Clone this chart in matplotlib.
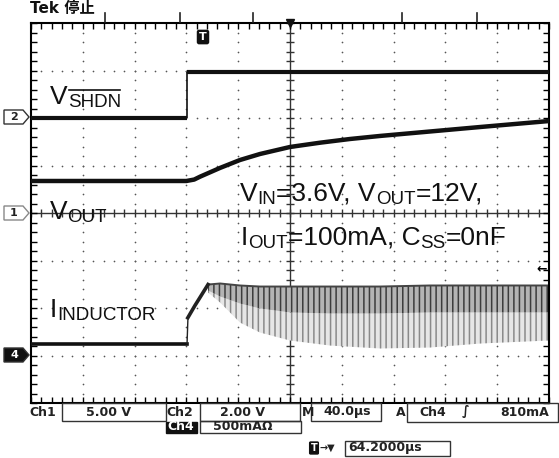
import matplotlib
matplotlib.use("Agg")
import matplotlib.pyplot as plt
import numpy as np
from matplotlib.transforms import IdentityTransform
from matplotlib.patches import Polygon, Rectangle
from matplotlib.lines import Line2D

'''
DATA (read off the scope screen)
'''
W, H = 559, 458
t_div = 40.0                      # us/div, 10 divisions
ch1_scale, ch1_ref = 5.0, 0.0     # VOUT  V/div, ref position (div)
ch2_scale, ch2_ref = 2.0, 2.0     # VSHDN V/div
ch4_scale, ch4_ref = 500.0, -3.0  # IL   mA/div

# VSHDN step
shdn_edges = [0.0, 120.5, 400.0]
shdn_levels = [0.0, 1.95]

# VOUT soft start
vout_t = [0, 120.0, 126.0, 130.5, 145.9, 161.4, 176.8, 200.0, 223.2, 246.3, 269.5, 295.0, 346.7, 400.0]
vout_v = [3.37, 3.37, 3.52, 3.82, 4.74, 5.58, 6.21, 6.95, 7.40, 7.79, 8.11, 8.42, 9.05, 9.68]

# inductor current, before switching settles
il_t = [0, 120.5, 121.2, 126.6, 130.5, 136.7]
il_i = [125, 125, 400, 526, 611, 747]
# switching ripple envelope (mA): top, dense part, spike tips
band_t = [136.7, 146.0, 161.4, 176.8, 200.0, 230.9, 269.5, 308.1, 346.7, 400.0]
band_hi = [747, 758, 737, 726, 726, 726, 726, 737, 737, 737]
band_mid = [684, 621, 547, 495, 453, 442, 442, 453, 453, 453]
band_lo = [663, 558, 347, 242, 158, 105, 74, 84, 126, 158]


def to_div(v, scale, ref):
    return np.asarray(v, dtype=float) / scale + ref


fig = plt.figure(figsize=(W / 100, H / 100), dpi=100)
ax = fig.add_axes([31 / W, 1 - 403 / H, 518 / W, 380 / H])
ax.set_xlim(0, 10 * t_div)
ax.set_ylim(-4, 4)

# frame + border ticks
for s in ax.spines.values():
    s.set_linewidth(1.5)
ax.set_xticks(np.arange(0, 10 * t_div + 1, t_div / 5))
ax.set_yticks(np.arange(-4, 4.01, 0.2))
ax.set_xticklabels([])
ax.set_yticklabels([])
ax.tick_params(direction="in", length=4, width=1, top=True, right=True)

# dotted graticule
for k in range(1, 10):
    if k == 5:
        continue
    yy = np.arange(-4, 4.01, 0.2)
    ax.scatter(np.full_like(yy, k * t_div), yy, s=1.5, color="#555", lw=0, zorder=1)
for j in range(-3, 4):
    if j == 0:
        continue
    xx = np.arange(0, 10 * t_div + 1, t_div / 5)
    ax.scatter(xx, np.full_like(xx, j), s=1.5, color="#555", lw=0, zorder=1)

# centre crosshair
ax.axhline(0, color="#333", lw=1, zorder=1)
ax.axvline(5 * t_div, color="#333", lw=1, zorder=1)
xx = np.arange(0, 10 * t_div + 1, t_div / 5)
ax.plot(xx, np.zeros_like(xx), ls="none", marker="|", ms=6, mew=1, color="#333", zorder=1)
yy = np.arange(-4, 4.01, 0.2)
ax.plot(np.full_like(yy, 5 * t_div), yy, ls="none", marker="_", ms=6, mew=1, color="#333", zorder=1)

# VSHDN
lv = to_div(shdn_levels, ch2_scale, ch2_ref)
ax.hlines(lv, shdn_edges[:-1], shdn_edges[1:], color="#111", lw=3, zorder=3)
ax.vlines(shdn_edges[1], lv[0], lv[1], color="#111", lw=1.2, zorder=3)

# VOUT
ax.plot(vout_t, to_div(vout_v, ch1_scale, ch1_ref), color="#111", lw=3.2, zorder=3,
        solid_joinstyle="round")

# inductor current
il_y = to_div(il_i, ch4_scale, ch4_ref)
ax.plot(il_t[:2], il_y[:2], color="#111", lw=2.6, zorder=3)
ax.plot(il_t[1:3], il_y[1:3], color="#222", lw=1.0, zorder=3)
ax.plot(il_t[2:], il_y[2:], color="#222", lw=2.6, zorder=3)

plt.rcParams["hatch.linewidth"] = 1.1
hi = to_div(band_hi, ch4_scale, ch4_ref)
mid = to_div(band_mid, ch4_scale, ch4_ref)
lo = to_div(band_lo, ch4_scale, ch4_ref)
ax.fill_between(band_t, mid, lo, facecolor="#e6e6e6", edgecolor="#8a8a8a",
                hatch="|||", lw=0, zorder=2)
ax.fill_between(band_t, hi, mid, facecolor="#b4b4b4", edgecolor="#3c3c3c",
                hatch="|||", lw=0, zorder=2)
ax.plot(band_t, hi, color="#444", lw=1.4, zorder=2)

# position markers on the frame
ax.plot([5 * t_div], [4], marker="v", ms=6, color="#111", clip_on=False, zorder=5)
ax.text(0.995, to_div(810, ch4_scale, ch4_ref) + 0.2, "\u2190", transform=ax.get_yaxis_transform(),
        ha="right", va="center", fontsize=9, fontweight="bold")

'''
TEXT IN PIXELS
'''
px = IdentityTransform()
rend = fig.canvas.get_renderer()
lab_font = "Liberation Sans"


def rich(x, y, parts, size=19, subsize=13.5, drop=3):
    # y is the baseline, pixels from the top
    for s, kind in parts:
        yb = H - y - (drop if kind != "main" else 0)
        t = fig.text(x, yb, s, transform=px, fontsize=subsize if kind != "main" else size,
                     family=lab_font, va="baseline", ha="left", color="#111")
        bb = t.get_window_extent(rend)
        if kind == "bar":
            yl = yb + subsize / 72 * 100 * 0.716 + 3.5
            fig.add_artist(Line2D([bb.x0 + 1, bb.x1 - 1], [yl, yl], transform=px, color="#111", lw=1.2))
        x = bb.x1


rich(50, 104, [("V", "main"), ("SHDN", "bar")])
rich(50, 219, [("V", "main"), ("OUT", "sub")])
rich(50, 317, [("I", "main"), ("INDUCTOR", "sub")])
rich(240, 201, [("V", "main"), ("IN", "sub"), ("=3.6V, V", "main"), ("OUT", "sub"), ("=12V,", "main")])
rich(241, 245, [("I", "main"), ("OUT", "sub"), ("=100mA, C", "main"), ("SS", "sub"), ("=0nF", "main")])


def ptext(x, y, s, ha="left", color="#222", size=9, family="DejaVu Sans", **kw):
    return fig.text(x, H - y, s, transform=px, ha=ha, va="center", fontsize=size,
                    fontweight="bold", family=family, color=color, **kw)


def pbox(x0, y0, x1, y1, fc="none"):
    fig.add_artist(Rectangle((x0, H - y1), x1 - x0, y1 - y0, transform=px,
                             fill=fc != "none", facecolor=fc, edgecolor="#333", lw=1))


# channel reference markers
def chan_marker(y, s, filled=False, edge="#333"):
    pts = [(4, H - y + 7), (23, H - y + 7), (29, H - y), (23, H - y - 7), (4, H - y - 7)]
    fig.add_artist(Polygon(pts, closed=True, transform=px, facecolor="#111" if filled else "white",
                           edgecolor=edge, lw=1))
    ptext(14, y, s, ha="center", color="white" if filled else "#222", size=8)


chan_marker(117, "2")
chan_marker(213, "1", edge="#888")
chan_marker(355, "4", filled=True)

# trigger marker at top
ptext(203, 37, "T", ha="center", color="white", size=8,
      bbox=dict(boxstyle="round,pad=0.15", fc="#111", ec="#111"))

# header bits, cut off by the top edge of the screenshot
ptext(30, 9, "Tek 停止", size=11, color="#111", family=["DejaVu Sans", "Noto Sans CJK SC"])
for xm in [105, 180, 253, 402, 477]:
    fig.add_artist(Line2D([xm, xm], [H - 13, H - 22], transform=px, color="#222", lw=1.2))

# readout rows
ptext(29, 412, "Ch1")
pbox(62, 403, 166, 421)
ptext(108, 412, "5.00 V", ha="center")
ptext(166, 412, "Ch2")
pbox(200, 403, 300, 421)
ptext(243, 412, "2.00 V", ha="center")
ptext(302, 412, "M")
pbox(311, 403, 381, 421)
ptext(347, 412, "40.0\u00b5s", ha="center")
ptext(396, 412, "A")
pbox(407, 403, 558, 422)
ptext(419, 412, "Ch4")
ptext(466, 412, "\u222b", ha="center")
ptext(549, 412, "810mA", ha="right")

fig.add_artist(Rectangle((166, H - 433), 31, 11, transform=px, facecolor="#111", edgecolor="#111"))
ptext(181, 427, "Ch4", ha="center", color="white")
pbox(200, 421, 301, 433)
ptext(213, 427, "500mA\u03a9")

ptext(314, 448, "T", ha="center", color="white", size=7,
      bbox=dict(boxstyle="round,pad=0.1", fc="#111", ec="#111"))
ptext(320, 448, "\u2192\u25bc", size=7)
pbox(345, 441, 450, 456)
ptext(348, 448, "64.2000\u00b5s")

fig.savefig("out.png", dpi=100)
